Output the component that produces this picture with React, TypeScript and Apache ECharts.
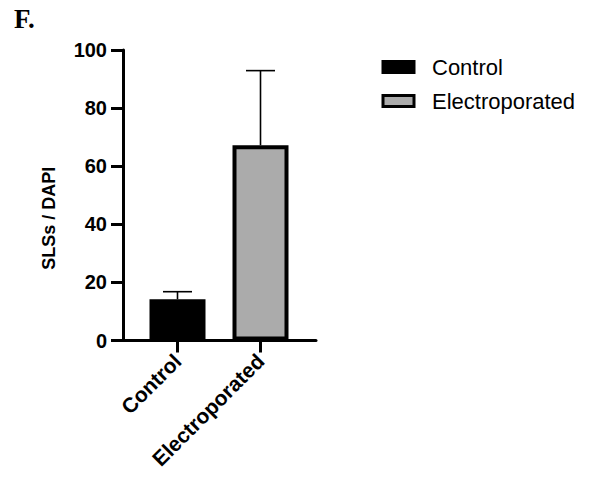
import React, { useEffect, useRef } from "react";
import * as echarts from "echarts";

// Group names and summary values (mean and mean + SD)
const groups = ["Control", "Electroporated"];
const means = [14.2, 67.2];
const upperErr = [16.8, 92.9];
const barColors = ["#000000", "#ababab"];
const yTicks = { min: 0, max: 100, step: 20 };

const SANS = "'Liberation Sans', Arial, sans-serif";

export default function App() {
  const ref = useRef<HTMLDivElement | null>(null);

  useEffect(() => {
    if (!ref.current) return;
    const chart = echarts.init(ref.current, null, { renderer: "svg" });

    const barSeries = groups.map((name, i) => ({
      name,
      type: "bar",
      xAxisIndex: 1,
      yAxisIndex: 1,
      stack: "g",
      barWidth: 56,
      z: 3,
      data: groups.map((_, j) => (j === i ? means[i] : "-")),
      itemStyle: {
        color: barColors[i],
        borderColor: "#000",
        borderWidth: 4,
      },
    }));

    const errorSeries = {
      type: "custom",
      xAxisIndex: 1,
      yAxisIndex: 1,
      z: 2,
      silent: true,
      data: groups.map((_, i) => [i, means[i], upperErr[i]]),
      renderItem: (_params: any, api: any) => {
        const base = api.coord([api.value(0), api.value(1)]);
        const top = api.coord([api.value(0), api.value(2)]);
        const half = 14.5;
        const style = { stroke: "#000", lineWidth: 1.6 };
        return {
          type: "group",
          children: [
            { type: "line", shape: { x1: base[0], y1: base[1], x2: top[0], y2: top[1] }, style },
            { type: "line", shape: { x1: top[0] - half, y1: top[1], x2: top[0] + half, y2: top[1] }, style },
          ],
        };
      },
    };

    chart.setOption({
      animation: false,
      backgroundColor: "#fff",
      textStyle: { fontFamily: SANS },
      grid: [
        { left: 123, right: 281, top: 50, bottom: 141.5 },
        { left: 136, width: 166, top: 50, bottom: 141.5 },
      ],
      xAxis: [
        {
          type: "value",
          gridIndex: 0,
          min: 0,
          max: 1,
          axisLine: { show: true, onZero: false, lineStyle: { color: "#000", width: 3 } },
          axisTick: { show: false },
          axisLabel: { show: false },
          splitLine: { show: false },
        },
        {
          type: "category",
          gridIndex: 1,
          data: groups,
          axisLine: { show: false },
          axisTick: { show: true, alignWithLabel: true, length: 12, lineStyle: { color: "#000", width: 3 } },
          axisLabel: {
            rotate: 45,
            margin: 17,
            color: "#000",
            fontFamily: SANS,
            fontWeight: "bold",
            fontSize: 21,
          },
        },
      ],
      yAxis: [
        {
          type: "value",
          gridIndex: 0,
          min: yTicks.min,
          max: yTicks.max,
          interval: yTicks.step,
          name: "SLSs / DAPI",
          nameLocation: "middle",
          nameRotate: 90,
          nameGap: 65,
          nameTextStyle: {
            color: "#000",
            fontFamily: SANS,
            fontWeight: "bold",
            fontSize: 18,
            padding: [0, 46, 0, 0],
          },
          axisLine: { show: true, lineStyle: { color: "#000", width: 3 } },
          axisTick: { show: true, length: 12, lineStyle: { color: "#000", width: 3 } },
          axisLabel: {
            margin: 16,
            color: "#000",
            fontFamily: SANS,
            fontWeight: "bold",
            fontSize: 20,
          },
          splitLine: { show: false },
        },
        {
          type: "value",
          gridIndex: 1,
          min: yTicks.min,
          max: yTicks.max,
          interval: yTicks.step,
          show: false,
        },
      ],
      legend: {
        orient: "vertical",
        left: 381.5,
        top: 56,
        padding: 0,
        itemGap: 12,
        itemWidth: 31,
        itemHeight: 11,
        icon: "rect",
        data: groups,
        itemStyle: { borderWidth: 3, borderColor: "#000" },
        textStyle: {
          color: "#000",
          fontFamily: SANS,
          fontSize: 22,
          lineHeight: 21,
          padding: [0, 0, 0, 13],
        },
      },
      graphic: [
        {
          type: "text",
          left: 14,
          top: 5,
          style: {
            text: "F.",
            fill: "#000",
            fontFamily: "'Liberation Serif', 'Times New Roman', serif",
            fontWeight: "bold",
            fontSize: 27,
          },
        },
      ],
      series: [...barSeries, errorSeries],
    });

    return () => chart.dispose();
  }, []);

  return (
    <div
      ref={ref}
      style={{ position: "fixed", left: 0, top: 0, width: 597, height: 482 }}
    />
  );
}
